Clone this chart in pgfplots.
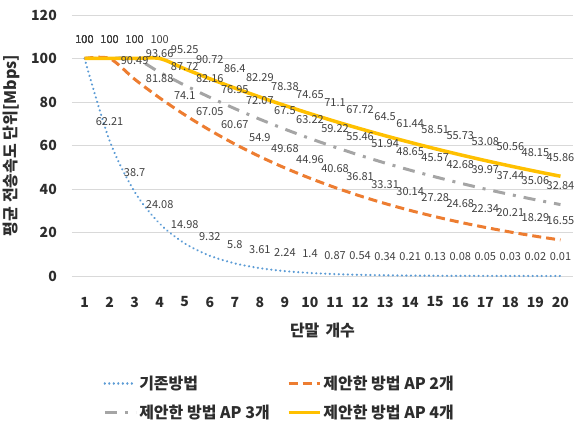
\documentclass[border=0pt]{standalone}
\usepackage{fontspec}
\setmainfont{Noto Sans CJK KR}
\usepackage{pgfplots}
\usepackage{pgfplotstable}
\pgfplotsset{compat=1.18}

\definecolor{cBase}{RGB}{91,155,213}
\definecolor{cAP2}{RGB}{237,125,49}
\definecolor{cAP3}{RGB}{165,165,165}
\definecolor{cAP4}{RGB}{255,192,0}
\definecolor{cGrid}{RGB}{217,217,217}
\definecolor{cLabel}{RGB}{64,64,64}
\definecolor{cText}{RGB}{45,45,45}

% average throughput [Mbps] versus number of terminals
\pgfplotstableread{
x  base   ap2    ap3    ap4
1  100    100    100    100
2  62.21  100    100    100
3  38.7   90.49  100    100
4  24.08  81.88  93.66  100
5  14.98  74.1   87.72  95.25
6  9.32   67.05  82.16  90.72
7  5.8    60.67  76.95  86.4
8  3.61   54.9   72.07  82.29
9  2.24   49.68  67.5   78.38
10 1.4    44.96  63.22  74.65
11 0.87   40.68  59.22  71.1
12 0.54   36.81  55.46  67.72
13 0.34   33.31  51.94  64.5
14 0.21   30.14  48.65  61.44
15 0.13   27.28  45.57  58.51
16 0.08   24.68  42.68  55.73
17 0.05   22.34  39.97  53.08
18 0.03   20.21  37.44  50.56
19 0.02   18.29  35.06  48.15
20 0.01   16.55  32.84  45.86
}\thrdata

\begin{document}
\begin{tikzpicture}
\begin{axis}[
  name=ax,
  scale only axis,
  width=501pt, height=261pt,
  xmin=0.5, xmax=20.5,
  ymin=0, ymax=120,
  xtick={1,...,20},
  ytick={0,20,...,120},
  major tick length=0pt,
  axis line style={draw=none},
  ymajorgrids,
  major grid style={draw=cGrid, line width=0.8pt},
  clip=false,
  tick label style={font=\fontsize{14}{14}\selectfont\bfseries, text=cText},
  xticklabel style={anchor=center, yshift=-26pt, inner sep=0pt},
  yticklabel style={anchor=east, xshift=-15pt, inner sep=0pt},
  /pgf/number format/assume math mode=true,
  xlabel={단말\hspace{0.15em} 개수},
  ylabel={평균 전송속도 단위[Mbps]},
  xlabel style={at={(axis description cs:0.5,-0.207)}, anchor=center,
    font=\fontsize{16}{16}\selectfont\bfseries, text=cText},
  ylabel style={at={(axis description cs:-0.12,0.5)}, anchor=center,
    font=\fontsize{16}{16}\selectfont\bfseries, text=cText},
  legend columns=2,
  legend cell align=left,
  legend style={at={(axis description cs:0.062,-0.375)}, anchor=north west,
    draw=none, fill=none, inner sep=0pt,
    font=\fontsize{16}{16}\selectfont\bfseries, text=cText,
    row sep=10pt,
    /tikz/every even column/.append style={column sep=15pt}},
  legend image code/.code={\draw[#1] (0pt,0pt) -- (31pt,0pt);},
  every node near coord/.append style={anchor=center, yshift=19pt, inner sep=0pt,
    font=\fontsize{11}{11}\selectfont, text=cLabel},
]
% lines
\addplot[cBase, line width=2.4pt, line cap=round, dash pattern=on 0.01pt off 4.5pt, smooth, tension=0.5]
  table[x=x, y=base] {\thrdata};
\addlegendentry{기존방법}
\addplot[cAP2, line width=3pt, dash pattern=on 9pt off 5pt, smooth, tension=0.5]
  table[x=x, y=ap2] {\thrdata};
\addlegendentry{제안한 방법 AP 2개}
\addplot[cAP3, line width=3pt, dash pattern=on 12pt off 8pt on 3pt off 8pt, smooth, tension=0.5]
  table[x=x, y=ap3] {\thrdata};
\addlegendentry{제안한 방법 AP 3개}
\addplot[cAP4, line width=3.5pt, smooth, tension=0.5]
  table[x=x, y=ap4] {\thrdata};
\addlegendentry{제안한 방법 AP 4개}
% value labels, drawn above all lines
\foreach \col in {base,ap2,ap3,ap4}{
  \addplot[draw=none, forget plot,
    nodes near coords={\pgfmathprintnumber[fixed,precision=2]{\pgfplotspointmeta}}]
    table[x=x, y=\col] {\thrdata};
}
\end{axis}
\pgfresetboundingbox
\path ([xshift=-72pt,yshift=-151pt]ax.south west) rectangle ([xshift=8pt,yshift=15pt]ax.north east);
\end{tikzpicture}
\end{document}
